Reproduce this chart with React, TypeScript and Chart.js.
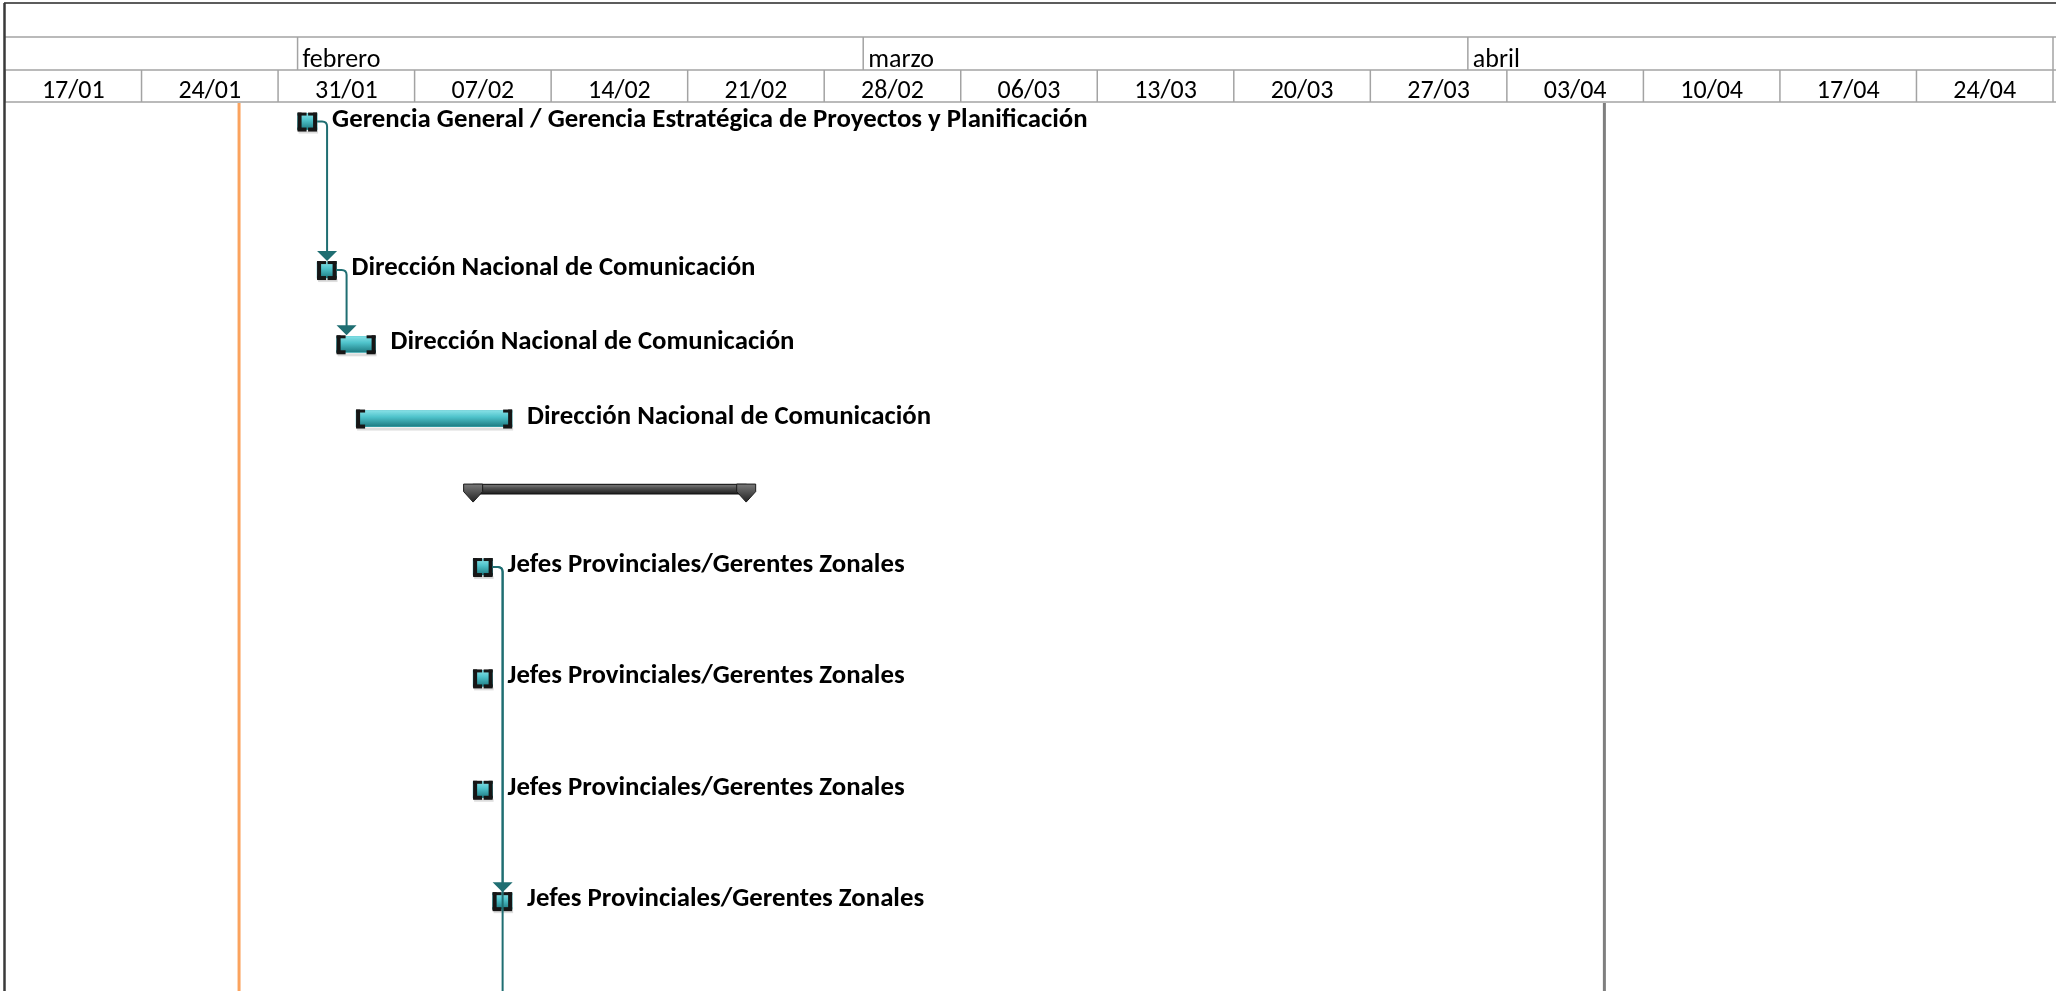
import React, { useEffect, useRef } from "react";
import { Chart, registerables } from "chart.js";

Chart.register(...registerables);

// ---- Timescale (day offsets counted from 17/01/2024) ----
const weekLabels = ["17/01", "24/01", "31/01", "07/02", "14/02", "21/02", "28/02", "06/03", "13/03", "20/03", "27/03", "03/04", "10/04", "17/04", "24/04"];
const weekStarts = [0, 7, 14, 21, 28, 35, 42, 49, 56, 63, 70, 77, 84, 91, 98];
const timelineEnd = 105;
const monthLabels = ["febrero", "marzo", "abril"];
const monthStarts = [15, 44, 75];

// ---- Tasks ----
const taskLabels = [
  "Gerencia General / Gerencia Estratégica de Proyectos y Planificación",
  "Dirección Nacional de Comunicación",
  "Dirección Nacional de Comunicación",
  "Dirección Nacional de Comunicación",
  "",
  "Jefes Provinciales/Gerentes Zonales",
  "Jefes Provinciales/Gerentes Zonales",
  "Jefes Provinciales/Gerentes Zonales",
  "Jefes Provinciales/Gerentes Zonales",
  "",
];
const taskStart = [15, 16, 17, 18, 24, 24, 24, 24, 25, 25];
const taskEnd = [16, 17, 19, 26, 38, 25, 25, 25, 26, 26];
const taskRow = [0.5, 4.5, 6.5, 8.5, 10.4, 12.5, 15.5, 18.5, 21.5, 24.6];
const taskIsSummary = [false, false, false, false, true, false, false, false, false, false];

// ---- Links (finish-to-start) ----
const linkFrom = [0, 1, 5, 5];
const linkTo = [1, 2, 8, 9];

// ---- Vertical markers ----
const statusDay = 12; // 29/01
const markerDay = 82; // 08/04

const TASK_H = 16;
const SUM_H = 10;
const FONT = "Carlito, Calibri, Lato, sans-serif";

const ganttPlugin = {
  id: "ganttDecor",
  beforeDraw(chart: any) {
    const ctx = chart.ctx;
    ctx.save();
    ctx.fillStyle = "#ffffff";
    ctx.fillRect(0, 0, chart.width, chart.height);
    ctx.restore();
  },
  beforeDatasetsDraw(chart: any) {
    const { ctx, chartArea, scales } = chart;
    const xs = scales.x;
    ctx.save();
    let px = xs.getPixelForValue(statusDay);
    ctx.strokeStyle = "#FBA35E";
    ctx.lineWidth = 3;
    ctx.beginPath();
    ctx.moveTo(px, chartArea.top);
    ctx.lineTo(px, chartArea.bottom);
    ctx.stroke();
    px = xs.getPixelForValue(markerDay);
    ctx.strokeStyle = "#7f7f7f";
    ctx.lineWidth = 3;
    ctx.beginPath();
    ctx.moveTo(px, chartArea.top);
    ctx.lineTo(px, chartArea.bottom);
    ctx.stroke();
    ctx.restore();
  },
  afterDatasetsDraw(chart: any) {
    const { ctx, chartArea, scales } = chart;
    const xs = scales.x;
    const ys = scales.y;
    ctx.save();
    ctx.beginPath();
    ctx.rect(chartArea.left, chartArea.top, chart.width - chartArea.left, chartArea.bottom - chartArea.top);
    ctx.clip();

    // task bars styling
    const tMeta = chart.getDatasetMeta(0);
    tMeta.data.forEach((el: any) => {
      const p = el.getProps(["x", "y", "base", "height"], true);
      const left = Math.min(p.x, p.base);
      const right = Math.max(p.x, p.base);
      const h = p.height;
      const top = p.y - h / 2;
      const bottom = p.y + h / 2;
      ctx.fillStyle = "rgba(0,0,0,0.13)";
      ctx.fillRect(left + 1, bottom + 1, right - left, 3);
      const g = ctx.createLinearGradient(0, top, 0, bottom);
      g.addColorStop(0, "#86e0e6");
      g.addColorStop(0.4, "#4fc3cb");
      g.addColorStop(1, "#1e7b82");
      ctx.fillStyle = g;
      ctx.fillRect(left, top, right - left, h);
      const arm = Math.min(9, (right - left) / 2);
      ctx.fillStyle = "#161616";
      ctx.fillRect(left, top - 1, 4, h + 2);
      ctx.fillRect(left, top - 1, arm, 3);
      ctx.fillRect(left, bottom - 2, arm, 4);
      ctx.fillRect(right - 4, top - 1, 4, h + 2);
      ctx.fillRect(right - arm, top - 1, arm, 3);
      ctx.fillRect(right - arm, bottom - 2, arm, 4);
    });

    // summary bars styling
    const sMeta = chart.getDatasetMeta(1);
    sMeta.data.forEach((el: any) => {
      const p = el.getProps(["x", "y", "base", "height"], true);
      const left = Math.min(p.x, p.base);
      const right = Math.max(p.x, p.base);
      const h = p.height;
      const top = p.y - h / 2;
      const g = ctx.createLinearGradient(0, top, 0, top + h);
      g.addColorStop(0, "#8c8c8c");
      g.addColorStop(0.35, "#555555");
      g.addColorStop(1, "#1c1c1c");
      ctx.fillStyle = g;
      ctx.fillRect(left, top, right - left, h);
      ctx.strokeStyle = "#1a1a1a";
      ctx.lineWidth = 1;
      ctx.strokeRect(left + 0.5, top + 0.5, right - left - 1, h - 1);
      [left, right].forEach((cx) => {
        const g2 = ctx.createLinearGradient(0, top, 0, top + 18);
        g2.addColorStop(0, "#7a7a7a");
        g2.addColorStop(1, "#222222");
        ctx.fillStyle = g2;
        ctx.beginPath();
        ctx.moveTo(cx - 9.5, top);
        ctx.lineTo(cx + 9.5, top);
        ctx.lineTo(cx + 9.5, top + 7.5);
        ctx.lineTo(cx, top + 18);
        ctx.lineTo(cx - 9.5, top + 7.5);
        ctx.closePath();
        ctx.fill();
        ctx.strokeStyle = "#1a1a1a";
        ctx.stroke();
      });
    });

    // links
    ctx.strokeStyle = "#1f6e72";
    ctx.fillStyle = "#1f6e72";
    ctx.lineWidth = 2;
    linkFrom.forEach((f, i) => {
      const t = linkTo[i];
      const x1 = xs.getPixelForValue(taskEnd[f]);
      const y1 = ys.getPixelForValue(taskRow[f]);
      const xv = x1 + 10;
      const yTop = ys.getPixelForValue(taskRow[t]) - TASK_H / 2 - 1;
      const r = 5;
      ctx.beginPath();
      ctx.moveTo(x1, y1);
      ctx.lineTo(xv - r, y1);
      ctx.quadraticCurveTo(xv, y1, xv, y1 + r);
      ctx.lineTo(xv, yTop - 9);
      ctx.stroke();
      ctx.beginPath();
      ctx.moveTo(xv - 10, yTop - 10);
      ctx.lineTo(xv + 10, yTop - 10);
      ctx.lineTo(xv, yTop);
      ctx.closePath();
      ctx.fill();
    });

    // labels
    ctx.fillStyle = "#000000";
    ctx.font = `bold 26.8px ${FONT}`;
    ctx.textAlign = "left";
    ctx.textBaseline = "alphabetic";
    taskLabels.forEach((lab, i) => {
      if (!lab) return;
      const x = xs.getPixelForValue(taskEnd[i]) + 15;
      const y = ys.getPixelForValue(taskRow[i]) + 5;
      ctx.fillText(lab, x, y);
    });
    ctx.restore();
  },
  afterDraw(chart: any) {
    const { ctx, chartArea, scales } = chart;
    const xs = scales.x;
    const W = chart.width;
    const H = chart.height;
    const rowA = 3, rowB = 37, rowC = 70, rowD = 102;
    ctx.save();
    ctx.fillStyle = "#ffffff";
    ctx.fillRect(0, 0, W, rowD);
    ctx.strokeStyle = "#a3a3a3";
    ctx.lineWidth = 1.5;
    [rowB, rowC, rowD].forEach((y) => {
      ctx.beginPath();
      ctx.moveTo(chartArea.left, y);
      ctx.lineTo(W, y);
      ctx.stroke();
    });
    [...monthStarts, timelineEnd].forEach((d) => {
      const x = xs.getPixelForValue(d);
      ctx.beginPath();
      ctx.moveTo(x, rowB);
      ctx.lineTo(x, rowC);
      ctx.stroke();
    });
    [...weekStarts, timelineEnd].forEach((d) => {
      const x = xs.getPixelForValue(d);
      ctx.beginPath();
      ctx.moveTo(x, rowC);
      ctx.lineTo(x, rowD);
      ctx.stroke();
    });
    ctx.strokeStyle = "#262626";
    ctx.lineWidth = 1.5;
    ctx.beginPath();
    ctx.moveTo(chartArea.left - 1, rowA);
    ctx.lineTo(W, rowA);
    ctx.stroke();
    ctx.strokeStyle = "#3a3a3a";
    ctx.lineWidth = 2.5;
    ctx.beginPath();
    ctx.moveTo(chartArea.left - 0.5, rowA);
    ctx.lineTo(chartArea.left - 0.5, H);
    ctx.stroke();

    ctx.fillStyle = "#000000";
    ctx.font = `26px ${FONT}`;
    ctx.textBaseline = "alphabetic";
    ctx.textAlign = "left";
    monthLabels.forEach((m, i) => {
      ctx.fillText(m, xs.getPixelForValue(monthStarts[i]) + 5, 67);
    });
    ctx.textAlign = "center";
    weekLabels.forEach((w, i) => {
      const a = xs.getPixelForValue(weekStarts[i]);
      const b = xs.getPixelForValue(i + 1 < weekStarts.length ? weekStarts[i + 1] : timelineEnd);
      ctx.fillText(w, (a + b) / 2, 98);
    });
    ctx.restore();
  },
};

export default function App() {
  const canvasRef = useRef<HTMLCanvasElement | null>(null);

  useEffect(() => {
    document.body.style.margin = "0";
    document.body.style.overflow = "hidden";
    document.documentElement.style.overflow = "hidden";
    const canvas = canvasRef.current;
    if (!canvas) return;

    const taskData: any[] = [];
    const summaryData: any[] = [];
    taskStart.forEach((s, i) => {
      const item = { x: [s, taskEnd[i]], y: taskRow[i] };
      if (taskIsSummary[i]) summaryData.push(item);
      else taskData.push(item);
    });

    const chart = new Chart(canvas, {
      type: "bar",
      data: {
        datasets: [
          {
            label: "Tareas",
            data: taskData,
            backgroundColor: "#4bbfc7",
            borderWidth: 0,
            barThickness: TASK_H,
            grouped: false,
          } as any,
          {
            label: "Resumen",
            data: summaryData,
            backgroundColor: "#3a3a3a",
            borderWidth: 0,
            barThickness: SUM_H,
            grouped: false,
          } as any,
        ],
      },
      options: {
        indexAxis: "y",
        animation: false,
        responsive: true,
        maintainAspectRatio: false,
        layout: { padding: { left: 5, right: 3, top: 103, bottom: 0 } },
        scales: {
          x: { type: "linear", min: 0, max: timelineEnd, display: false, offset: false },
          y: { type: "linear", min: 0, max: 23.92, reverse: true, display: false, offset: false },
        },
        plugins: {
          legend: { display: false },
          tooltip: { enabled: false },
        },
      },
      plugins: [ganttPlugin],
    });
    return () => chart.destroy();
  }, []);

  return (
    <div style={{ width: "2056px", height: "991px", position: "relative" }}>
      <canvas ref={canvasRef} />
    </div>
  );
}
